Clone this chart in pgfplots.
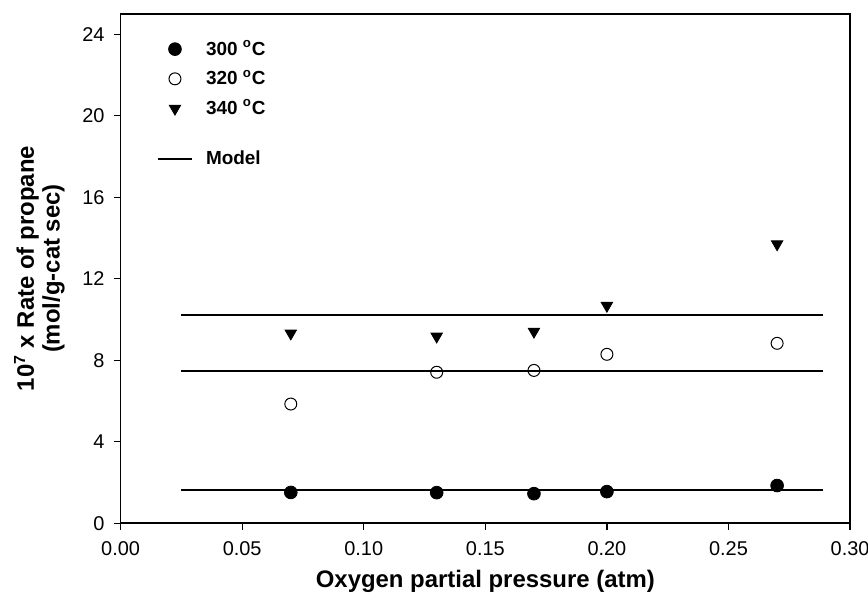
\documentclass[border=0pt]{standalone}
\usepackage{fontspec}
\setmainfont{Liberation Sans}
\usepackage{pgfplots}
\pgfplotsset{compat=1.18}

\begin{document}
\begin{tikzpicture}
\begin{axis}[
  name=main,
  scale only axis,
  width=366pt, height=255.5pt,
  xmin=0, xmax=0.30, ymin=0, ymax=25,
  xtick={0,0.05,...,0.30},
  ytick={0,4,...,24},
  xticklabel style={/pgf/number format/fixed, /pgf/number format/fixed zerofill,
    /pgf/number format/precision=2, yshift=-2pt},
  yticklabel style={xshift=-1pt},
  /pgf/number format/assume math mode=true,
  ticklabel style={font=\fontsize{10}{11}\selectfont},
  tick align=outside, tick pos=left,
  major tick length=3.5pt,
  axis line style={line width=0.8pt},
  tick style={line width=0.6pt, black},
  xlabel={\bfseries Oxygen partial pressure (atm)},
  ylabel={\bfseries\begin{tabular}{@{}c@{}}10\textsuperscript{7} x Rate of propane\\(mol/g-cat sec)\end{tabular}},
  label style={font=\fontsize{12}{13}\selectfont},
  xlabel style={at={(axis description cs:0.5,0)}, anchor=center, yshift=-29pt},
  ylabel style={at={(axis description cs:0,0.5)}, anchor=center, yshift=40pt},
  legend style={at={(axis description cs:0,1)}, anchor=north west,
    xshift=15pt, yshift=-9pt, draw=none, fill=none,
    font=\fontsize{9.5}{11}\selectfont\bfseries, row sep=2pt},
  legend cell align=left,
  clip=false,
]
\addplot[only marks, mark=*, mark size=3.2pt, black] coordinates {
  (0.07,1.51) (0.13,1.50) (0.17,1.45) (0.20,1.55) (0.27,1.85)};
\addlegendentry{\hspace*{4.5pt}300 \textsuperscript{o}C}
\addplot[only marks, mark=o, mark size=3pt, black, mark options={line width=0.5pt}] coordinates {
  (0.07,5.85) (0.13,7.41) (0.17,7.50) (0.20,8.29) (0.27,8.83)};
\addlegendentry{\hspace*{4.5pt}320 \textsuperscript{o}C}
\addplot[only marks, mark=triangle*, mark size=3.3pt, black, mark options={rotate=180}] coordinates {
  (0.07,9.32) (0.13,9.17) (0.17,9.41) (0.20,10.68) (0.27,13.70)};
\addlegendentry{\hspace*{4.5pt}340 \textsuperscript{o}C}
\addlegendimage{empty legend}
\addlegendentry{\rule{0pt}{3pt}}
\addplot[black, line width=1.1pt] coordinates {(0.025,10.22) (0.289,10.22)};
\addlegendentry{\hspace*{4.5pt}Model}
\addplot[black, line width=1.1pt, forget plot] coordinates {(0.025,7.46) (0.289,7.46)};
\addplot[black, line width=1.1pt, forget plot] coordinates {(0.025,1.61) (0.289,1.61)};
\end{axis}
\pgfresetboundingbox
\path ([shift={(-60.5pt,-40pt)}]main.south west) rectangle ([shift={(9pt,7pt)}]main.north east);
\end{tikzpicture}
\end{document}
